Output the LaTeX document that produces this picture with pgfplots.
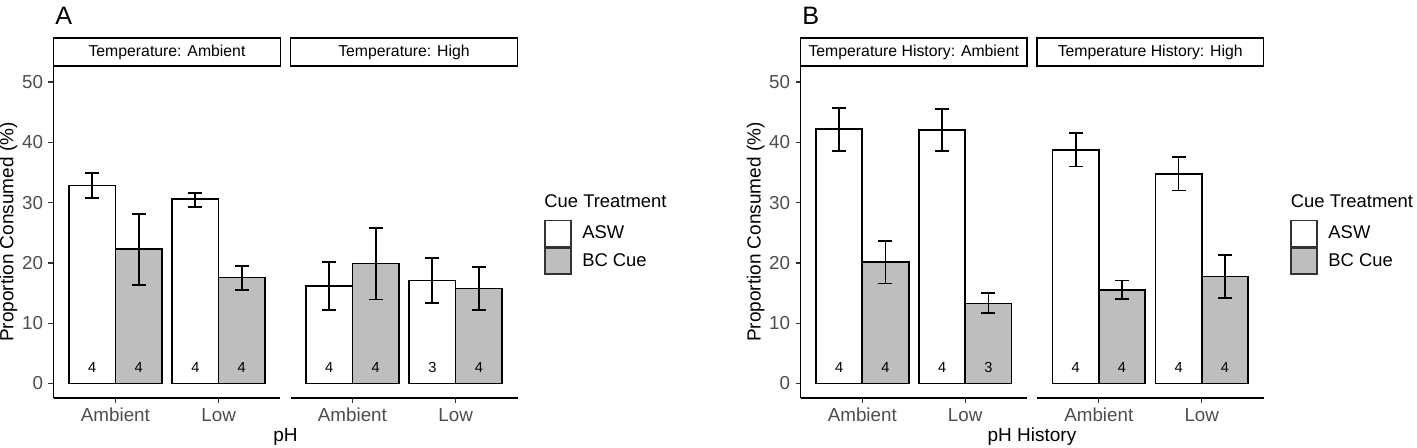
\documentclass[border=0pt]{standalone}
\usepackage{fontspec}
\setmainfont{Liberation Sans}
\usepackage{pgfplots}
\usepackage{pgfplotstable}
\pgfplotsset{compat=1.18}
\definecolor{barg}{HTML}{BEBEBE}
\definecolor{tickl}{HTML}{4D4D4D}
\definecolor{tickc}{HTML}{333333}

% x: 1 = Ambient, 2 = Low; ASW dodged to the left (x-0.225), BC Cue to the right (x+0.225)
\pgfplotstableread{
x y ep em
0.775 32.85 2.11 2.04
1.775 30.53 1.11 1.22
}\AoneASW
\pgfplotstableread{
x y ep em
1.225 22.29 5.86 5.97
2.225 17.59 1.93 2.05
}\AoneBC
\pgfplotstableread{
x y ep em
0.775 16.15 3.98 3.98
1.775 17.09 3.71 3.71
}\AtwoASW
\pgfplotstableread{
x y ep em
1.225 19.91 5.92 5.97
2.225 15.76 3.60 3.59
}\AtwoBC
\pgfplotstableread{
x y ep em
0.775 42.15 3.59 3.65
1.775 41.98 3.48 3.43
}\BoneASW
\pgfplotstableread{
x y ep em
1.225 20.13 3.54 3.54
2.225 13.27 1.77 1.60
}\BoneBC
\pgfplotstableread{
x y ep em
0.775 38.77 2.82 2.77
1.775 34.79 2.82 2.77
}\BtwoASW
\pgfplotstableread{
x y ep em
1.225 15.54 1.55 1.55
2.225 17.75 3.60 3.59
}\BtwoBC
\pgfplotstableread{
x y n
0.775 2.65 4
1.225 2.65 4
1.775 2.65 4
2.225 2.65 4
}\NAone
\pgfplotstableread{
x y n
0.775 2.65 4
1.225 2.65 4
1.775 2.65 3
2.225 2.65 4
}\NAtwo
\pgfplotstableread{
x y n
0.775 2.65 4
1.225 2.65 4
1.775 2.65 4
2.225 2.65 3
}\NBone
\pgfplotstableread{
x y n
0.775 2.65 4
1.225 2.65 4
1.775 2.65 4
2.225 2.65 4
}\NBtwo

\pgfplotsset{
  facet/.style={
    scale only axis, width=113.5pt, height=166.15pt, anchor=south west,
    xmin=0.4, xmax=2.6, ymin=-2.45, ymax=52.65,
    axis x line*=bottom, axis y line*=left,
    axis line style={line width=0.9pt, black, -},
    xtick={1,2}, xticklabels={Ambient,Low},
    ytick={0,10,20,30,40,50},
    tick align=outside, major tick length=2.5pt,
    tick style={line width=0.7pt, color=tickc},
    /pgf/number format/assume math mode=true,
    every tick label/.append style={font=\fontsize{9.4}{11}\selectfont, text=tickl},
    xticklabel style={inner sep=0pt, yshift=-2.2pt},
    yticklabel style={inner sep=0pt, xshift=-2.5pt},
    every axis title/.style={at={(0.5,1)}, anchor=south, draw=black, line width=0.9pt,
      minimum width=113.5pt, minimum height=13.85pt, inner sep=0pt, outer sep=0pt,
      font=\fontsize{7.9}{9}\selectfont, text=black},
    xlabel style={at={(axis description cs:1.022,-0.1306)}, anchor=base,
      font=\fontsize{9.5}{11}\selectfont},
    ylabel style={at={(axis description cs:-0.198,0.5)}, anchor=center,
      font=\fontsize{9.5}{11}\selectfont},
    legend style={anchor=north west, draw=none, fill=none, inner sep=0pt,
      outer sep=0pt, row sep=0pt, column sep=5.3pt,
      font=\fontsize{9.2}{11}\selectfont, nodes={inner sep=0pt}},
    legend cell align=left,
    legend image code/.code={\draw[#1] (0pt,-6.5pt) rectangle (13pt,6.5pt);},
  },
  barbase/.style={ybar, bar width=0.45, bar shift=0pt, draw=black,
    line width=0.9pt, forget plot,
    /pgfplots/error bars/y dir=both,
    /pgfplots/error bars/y explicit,
    /pgfplots/error bars/error bar style={line width=0.9pt, black},
    /pgfplots/error bars/error mark options={rotate=90, mark size=3.5pt, line width=0.9pt, black}},
  asw/.style={fill=white, barbase},
  bcc/.style={fill=barg, barbase},
  nlab/.style={only marks, mark=*, mark size=0pt, mark options={draw=none, fill=none},
    forget plot, point meta=explicit symbolic, nodes near coords,
    nodes near coords align=center,
    every node near coord/.append style={font=\fontsize{7.3}{8}\selectfont,
      inner sep=0pt, text=black, anchor=center}},
}

\begin{document}
\begin{tikzpicture}
\useasboundingbox (0,0) rectangle (708.5pt,224pt);

% Panel A, facet 1
\begin{axis}[facet, at={(26.75pt,24.85pt)},
  title={Temperature: Ambient},
  xlabel={pH}, ylabel={Proportion Consumed (\%)}]
\addplot[asw] table[x=x,y=y,y error plus=ep,y error minus=em]{\AoneASW};
\addplot[bcc] table[x=x,y=y,y error plus=ep,y error minus=em]{\AoneBC};
\addplot[nlab] table[x=x,y=y,meta=n]{\NAone};
\end{axis}

% Panel A, facet 2
\begin{axis}[facet, at={(145.25pt,24.85pt)}, hide y axis,
  title={Temperature: High},
  legend style={at={(axis description cs:1.118,0.5366)}}]
\addplot[asw] table[x=x,y=y,y error plus=ep,y error minus=em]{\AtwoASW};
\addplot[bcc] table[x=x,y=y,y error plus=ep,y error minus=em]{\AtwoBC};
\addplot[nlab] table[x=x,y=y,meta=n]{\NAtwo};
\addlegendimage{fill=white, draw=tickc, line width=0.7pt}
\addlegendentry{ASW}
\addlegendimage{fill=barg, draw=tickc, line width=0.7pt}
\addlegendentry{BC Cue}
\end{axis}

% Panel B, facet 1
\begin{axis}[facet, at={(400.25pt,24.85pt)}, width=113.25pt,
  every axis title/.append style={minimum width=113.25pt},
  title={Temperature History: Ambient},
  xlabel={pH History}, ylabel={Proportion Consumed (\%)}]
\addplot[asw] table[x=x,y=y,y error plus=ep,y error minus=em]{\BoneASW};
\addplot[bcc] table[x=x,y=y,y error plus=ep,y error minus=em]{\BoneBC};
\addplot[nlab] table[x=x,y=y,meta=n]{\NBone};
\end{axis}

% Panel B, facet 2
\begin{axis}[facet, at={(518.5pt,24.85pt)}, width=113.25pt, hide y axis,
  every axis title/.append style={minimum width=113.25pt},
  title={Temperature History: High},
  legend style={at={(axis description cs:1.119,0.5366)}}]
\addplot[asw] table[x=x,y=y,y error plus=ep,y error minus=em]{\BtwoASW};
\addplot[bcc] table[x=x,y=y,y error plus=ep,y error minus=em]{\BtwoBC};
\addplot[nlab] table[x=x,y=y,meta=n]{\NBtwo};
\addlegendimage{fill=white, draw=tickc, line width=0.7pt}
\addlegendentry{ASW}
\addlegendimage{fill=barg, draw=tickc, line width=0.7pt}
\addlegendentry{BC Cue}
\end{axis}

% legend titles
\node[anchor=base west, inner sep=0pt, font=\fontsize{9.2}{11}\selectfont]
  at (272pt,120.35pt) {Cue Treatment};
\node[anchor=base west, inner sep=0pt, font=\fontsize{9.2}{11}\selectfont]
  at (645.25pt,120.35pt) {Cue Treatment};

% panel letters
\node[anchor=base west, inner sep=0pt, font=\fontsize{12.6}{14}\selectfont]
  at (27.5pt,211.5pt) {A};
\node[anchor=base west, inner sep=0pt, font=\fontsize{12.6}{14}\selectfont]
  at (401pt,211.5pt) {B};
\end{tikzpicture}
\end{document}
